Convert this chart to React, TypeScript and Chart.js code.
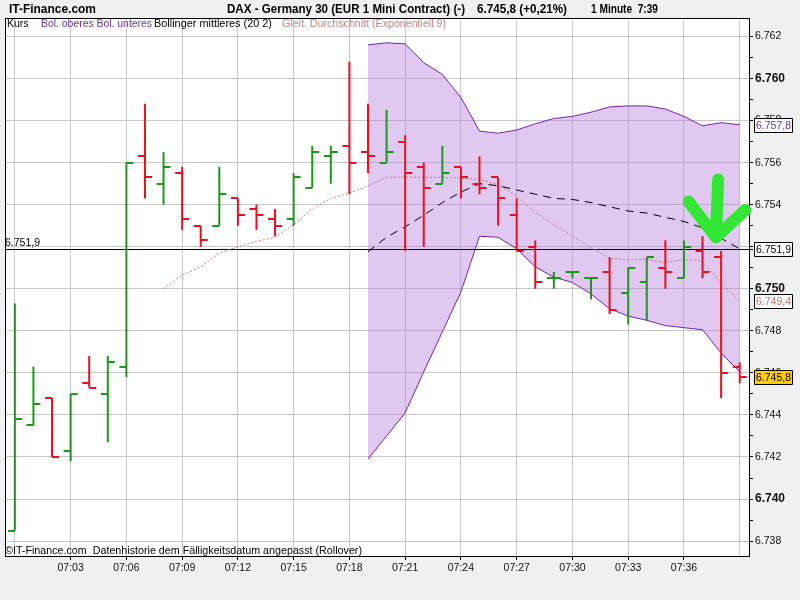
import React, { useEffect, useRef } from 'react';
import { Chart, registerables } from 'chart.js';

Chart.register(...registerables);

const FONT = "'Liberation Sans', Arial, sans-serif";

// ---- data ----
const minutes = [
  '07:00', '07:01', '07:02', '07:03', '07:04', '07:05', '07:06', '07:07', '07:08', '07:09',
  '07:10', '07:11', '07:12', '07:13', '07:14', '07:15', '07:16', '07:17', '07:18', '07:19',
  '07:20', '07:21', '07:22', '07:23', '07:24', '07:25', '07:26', '07:27', '07:28', '07:29',
  '07:30', '07:31', '07:32', '07:33', '07:34', '07:35', '07:36', '07:37', '07:38', '07:39',
];
const openP = [
  6738.5, 6743.5, 6744.8, 6742.3, 6745.5, 6745.0, 6746.3, 6756.3, 6755.0, 6755.5,
  6753.0, 6753.0, 6754.3, 6753.8, 6753.3, 6753.3, 6754.8, 6756.3, 6756.8, 6756.5,
  6756.0, 6757.0, 6755.8, 6755.0, 6755.8, 6755.0, 6755.3, 6753.5, 6752.0, 6750.5,
  6750.8, 6750.5, 6750.8, 6749.8, 6750.3, 6751.0, 6750.5, 6751.8, 6751.5, 6746.3,
];
const highP = [
  6749.3, 6746.3, 6744.8, 6745.0, 6746.8, 6746.8, 6756.0, 6758.8, 6756.5, 6755.8,
  6753.0, 6755.8, 6754.3, 6754.0, 6753.8, 6755.5, 6756.8, 6756.8, 6760.8, 6758.8,
  6758.5, 6757.3, 6756.0, 6756.8, 6755.8, 6756.3, 6755.3, 6754.3, 6752.3, 6750.8,
  6750.8, 6750.5, 6751.5, 6751.0, 6751.5, 6752.3, 6752.3, 6752.5, 6751.8, 6746.5,
];
const lowP = [
  6738.5, 6743.5, 6742.0, 6741.8, 6745.3, 6742.7, 6745.8, 6754.3, 6754.0, 6752.8,
  6752.0, 6753.0, 6753.0, 6752.8, 6752.5, 6753.0, 6754.8, 6755.0, 6754.5, 6755.5,
  6756.0, 6751.8, 6752.0, 6755.0, 6754.3, 6754.5, 6753.0, 6751.8, 6750.0, 6750.0,
  6750.5, 6749.5, 6748.8, 6748.3, 6748.5, 6750.0, 6750.5, 6750.5, 6744.8, 6745.5,
];
const closeP = [
  6743.8, 6744.5, 6742.0, 6745.0, 6745.3, 6746.5, 6756.0, 6755.3, 6755.8, 6753.3,
  6752.3, 6754.5, 6753.5, 6753.5, 6753.0, 6755.3, 6756.5, 6756.5, 6756.0, 6756.3,
  6756.5, 6755.5, 6754.8, 6755.5, 6755.3, 6754.8, 6754.3, 6751.8, 6750.3, 6750.5,
  6750.8, 6750.5, 6749.0, 6751.0, 6751.5, 6750.8, 6752.0, 6750.8, 6746.0, 6745.8,
];

const bandStart = 19;
const upperBand = [
  6761.6, 6761.7, 6761.65, 6760.75, 6760.2, 6759.1, 6757.5, 6757.4, 6757.55, 6757.85,
  6758.1, 6758.2, 6758.4, 6758.65, 6758.7, 6758.7, 6758.55, 6758.2, 6757.75, 6757.9, 6757.8,
];
const lowerBand = [
  6741.9, 6743.0, 6744.1, 6746.05, 6747.95, 6749.85, 6752.5, 6752.45, 6751.9, 6751.05,
  6750.55, 6750.3, 6749.75, 6749.05, 6748.7, 6748.5, 6748.25, 6748.15, 6748.05, 6746.95, 6746.05,
];
const midBand = [
  6751.76, 6752.45, 6752.95, 6753.5, 6754.1, 6754.6, 6755.0, 6754.9, 6754.7, 6754.5,
  6754.3, 6754.25, 6754.1, 6753.9, 6753.7, 6753.6, 6753.4, 6753.2, 6752.9, 6752.4, 6751.9,
];
const emaStart = 8;
const ema9 = [
  6750.0, 6750.65, 6751.05, 6751.7, 6752.0, 6752.25, 6752.45, 6753.05, 6753.8, 6754.3,
  6754.55, 6754.9, 6755.3, 6755.32, 6755.3, 6755.3, 6755.27, 6755.2, 6754.95, 6754.4,
  6753.65, 6753.05, 6752.5, 6751.95, 6751.45, 6751.38, 6751.4, 6751.25, 6751.4, 6751.3,
  6750.27, 6749.4,
];
const refLevel = 6751.9;
const changeText = '+0,21%';

// hand-drawn arrow annotation, in data units (minute index, price)
const arrowStem = [[37.84, 6755.2], [37.72, 6752.5]];
const arrowHead = [[36.25, 6754.15], [37.72, 6752.45], [39.3, 6753.75]];

// ---- helpers ----
const GREEN = '#189a18';
const RED = '#e8101e';

function de(v: number, d: number) {
  const [i, f] = v.toFixed(d).split('.');
  const ii = i.replace(/\B(?=(\d{3})+(?!\d))/g, '.');
  return f ? ii + ',' + f : ii;
}

function fitText(ctx: CanvasRenderingContext2D, text: string, x: number, y: number, w: number) {
  const m = ctx.measureText(text).width;
  ctx.save();
  ctx.translate(x, y);
  ctx.scale(w / m, 1);
  ctx.fillText(text, 0, 0);
  ctx.restore();
}

function tickImg(color: string, side: 'l' | 'r') {
  const c = document.createElement('canvas');
  c.width = 16;
  c.height = 2;
  const g = c.getContext('2d')!;
  g.fillStyle = color;
  if (side === 'l') g.fillRect(1, 0, 7, 2);
  else g.fillRect(8, 0, 7, 2);
  return c;
}

const isUp = (i: number) => closeP[i] >= openP[i];

export default function App() {
  const ref = useRef<HTMLCanvasElement | null>(null);

  useEffect(() => {
    const canvas = ref.current!;
    const imgs = {
      gl: tickImg(GREEN, 'l'),
      gr: tickImg(GREEN, 'r'),
      rl: tickImg(RED, 'l'),
      rr: tickImg(RED, 'r'),
    };

    const decor = {
      id: 'decor',
      beforeDraw(chart: any) {
        const { ctx, chartArea: a, width, height } = chart;
        ctx.save();
        ctx.fillStyle = '#f0f0f2';
        ctx.fillRect(0, 0, width, height);
        ctx.fillStyle = '#ffffff';
        ctx.fillRect(a.left, a.top, a.right - a.left, a.bottom - a.top);
        ctx.restore();
      },
      beforeDatasetsDraw(chart: any) {
        const { ctx, chartArea: a } = chart;
        const ys = chart.scales.y;
        const y = Math.round(ys.getPixelForValue(refLevel)) + 0.5;
        ctx.save();
        ctx.strokeStyle = '#000';
        ctx.lineWidth = 1;
        ctx.beginPath();
        ctx.moveTo(a.left, y);
        ctx.lineTo(a.right + 4, y);
        ctx.stroke();
        ctx.restore();
      },
      afterDraw(chart: any) {
        const { ctx, chartArea: a } = chart;
        const xs = chart.scales.x;
        const ys = chart.scales.y;
        ctx.save();
        // frame
        ctx.strokeStyle = '#000';
        ctx.lineWidth = 1;
        ctx.strokeRect(a.left + 0.5, a.top + 0.5, a.right - a.left, a.bottom - a.top);

        // header
        ctx.textBaseline = 'middle';
        ctx.textAlign = 'left';
        ctx.fillStyle = '#000';
        ctx.font = `bold 12.5px ${FONT}`;
        fitText(ctx, 'IT-Finance.com', 9, 10, 87);
        fitText(ctx, 'DAX - Germany 30 (EUR 1 Mini Contract) (-)', 227, 10, 238);
        fitText(ctx, `${de(closeP[closeP.length - 1], 1)} (${changeText})`, 477, 10, 90);
        fitText(ctx, `1 Minute  ${minutes[minutes.length - 1].replace(/^0/, '')}`, 591, 10, 67);

        // legend row
        ctx.font = `10.5px ${FONT}`;
        ctx.fillStyle = '#000';
        ctx.fillText('Kurs', 7, 24.5);
        ctx.fillStyle = '#7030a0';
        fitText(ctx, 'Bol. oberes Bol. unteres', 41, 24.5, 111);
        ctx.fillStyle = '#000';
        fitText(ctx, 'Bollinger mittleres (20 2)', 154, 24.5, 118);
        ctx.fillStyle = '#d08080';
        fitText(ctx, 'Gleit. Durchschnitt (Exponentiell 9)', 282, 24.5, 164);

        // footer in plot
        ctx.fillStyle = '#000';
        ctx.font = `11px ${FONT}`;
        fitText(ctx, '©IT-Finance.com  Datenhistorie dem Fälligkeitsdatum angepasst (Rollover)', 5, 550.5, 357);

        // ref level label
        ctx.font = `10.5px ${FONT}`;
        const ry = ys.getPixelForValue(refLevel);
        ctx.fillText(de(refLevel, 1), 5, ry - 5.5);

        // arrow annotation
        ctx.strokeStyle = '#33e633';
        ctx.lineWidth = 12;
        ctx.lineCap = 'round';
        ctx.lineJoin = 'round';
        ctx.beginPath();
        ctx.moveTo(xs.getPixelForValue(arrowStem[0][0]), ys.getPixelForValue(arrowStem[0][1]));
        ctx.lineTo(xs.getPixelForValue(arrowStem[1][0]), ys.getPixelForValue(arrowStem[1][1]));
        ctx.moveTo(xs.getPixelForValue(arrowHead[0][0]), ys.getPixelForValue(arrowHead[0][1]));
        for (let i = 1; i < arrowHead.length; i++) {
          ctx.lineTo(xs.getPixelForValue(arrowHead[i][0]), ys.getPixelForValue(arrowHead[i][1]));
        }
        ctx.stroke();

        // value boxes on the right axis
        const boxes = [
          { v: upperBand[upperBand.length - 1], fg: '#7030a0', bg: '#ffffff' },
          { v: midBand[midBand.length - 1], fg: '#000000', bg: '#ffffff' },
          { v: ema9[ema9.length - 1], fg: '#d07070', bg: '#ffffff' },
          { v: closeP[closeP.length - 1], fg: '#000000', bg: '#ffcc00' },
        ];
        ctx.lineWidth = 1;
        ctx.lineCap = 'butt';
        ctx.font = `10.5px ${FONT}`;
        for (const b of boxes) {
          const y = Math.round(ys.getPixelForValue(b.v));
          ctx.fillStyle = b.bg;
          ctx.fillRect(754, y - 7, 38, 14);
          ctx.strokeStyle = '#000';
          ctx.strokeRect(754.5, y - 6.5, 38, 14);
          ctx.fillStyle = b.fg;
          ctx.fillText(de(b.v, 1), 756, y + 1);
        }
        ctx.restore();
      },
    };

    const band = (arr: number[], start: number) => arr.map((v, i) => ({ x: start + i, y: v }));

    const chart = new Chart(canvas, {
      type: 'line',
      data: {
        datasets: [
          {
            type: 'line',
            label: 'open',
            data: openP.map((v, i) => ({ x: i, y: v })),
            showLine: false,
            pointRadius: 4,
            pointStyle: (c: any) => (isUp(c.dataIndex) ? imgs.gl : imgs.rl),
          } as any,
          {
            type: 'line',
            label: 'close',
            data: closeP.map((v, i) => ({ x: i, y: v })),
            showLine: false,
            pointRadius: 4,
            pointStyle: (c: any) => (isUp(c.dataIndex) ? imgs.gr : imgs.rr),
          } as any,
          {
            type: 'bar',
            label: 'Kurs',
            data: highP.map((h, i) => ({ x: i, y: [lowP[i], h] })),
            backgroundColor: highP.map((_, i) => (isUp(i) ? GREEN : RED)),
            borderWidth: 0,
            barThickness: 2,
            inflateAmount: 0,
            grouped: false,
          } as any,
          {
            type: 'line',
            label: 'Bollinger mittleres',
            data: band(midBand, bandStart),
            borderColor: '#000',
            borderWidth: 1,
            borderDash: [8, 6],
            pointRadius: 0,
            fill: false,
            tension: 0,
          },
          {
            type: 'line',
            label: 'EMA 9',
            data: band(ema9, emaStart),
            borderColor: '#d07880',
            borderWidth: 1,
            borderDash: [2, 2],
            pointRadius: 0,
            fill: false,
            tension: 0,
          },
          {
            type: 'line',
            label: 'Bol. oberes',
            data: band(upperBand, bandStart),
            borderColor: '#7a22b0',
            borderWidth: 1,
            pointRadius: 0,
            fill: '+1',
            backgroundColor: 'rgba(178,118,218,0.4)',
            tension: 0,
          },
          {
            type: 'line',
            label: 'Bol. unteres',
            data: band(lowerBand, bandStart),
            borderColor: '#7a22b0',
            borderWidth: 1,
            pointRadius: 0,
            fill: false,
            tension: 0,
          },
        ],
      },
      options: {
        animation: false,
        responsive: false,
        devicePixelRatio: 1,
        events: [],
        layout: { padding: { left: 3, top: 18, right: 0, bottom: 0 } },
        plugins: {
          legend: { display: false },
          tooltip: { enabled: false },
          title: { display: false },
          filler: { drawTime: 'beforeDatasetsDraw' },
        } as any,
        scales: {
          x: {
            type: 'linear',
            min: -0.53,
            max: 39.5,
            offset: false,
            afterFit: (s: any) => { s.height = 44; },
            border: { display: false },
            grid: {
              offset: false,
              color: '#c8c8c8',
              lineWidth: 1,
              tickLength: 4,
              tickColor: (c: any) => {
                const v = c.tick ? Math.round(c.tick.value) : -1;
                return v > 0 && v < minutes.length - 1 ? '#000' : 'rgba(0,0,0,0)';
              },
            },
            ticks: {
              stepSize: 3,
              includeBounds: false,
              autoSkip: false,
              maxRotation: 0,
              padding: 2,
              color: '#111',
              font: { family: FONT, size: 10.5 },
              callback: (v: any) => {
                const i = Math.round(Number(v));
                return i > 0 && i < minutes.length - 1 ? minutes[i] : '';
              },
            },
          },
          y: {
            type: 'linear',
            position: 'right',
            min: 6737.29,
            max: 6762.88,
            afterFit: (s: any) => { s.width = 51; },
            border: { display: false },
            grid: {
              color: (c: any) => (c.tick && Math.round(c.tick.value) % 2 === 0 ? '#c8c8c8' : 'rgba(0,0,0,0)'),
              lineWidth: 1,
              tickLength: 4,
              tickColor: '#000',
            },
            ticks: {
              stepSize: 1,
              includeBounds: false,
              autoSkip: false,
              padding: 2,
              color: '#111',
              font: (c: any) =>
                c.tick && Math.round(c.tick.value) % 10 === 0
                  ? { family: FONT, size: 12, weight: 'bold' }
                  : { family: FONT, size: 10.5 },
              callback: (v: any) => {
                const n = Math.round(Number(v));
                return n % 2 === 0 ? de(n, 0) : '';
              },
            },
          },
        },
      } as any,
      plugins: [decor],
    });

    return () => chart.destroy();
  }, []);

  return (
    <div style={{ position: 'fixed', left: 0, top: 0, width: 800, height: 600 }}>
      <canvas ref={ref} width={800} height={600} style={{ display: 'block', width: 800, height: 600 }} />
    </div>
  );
}
